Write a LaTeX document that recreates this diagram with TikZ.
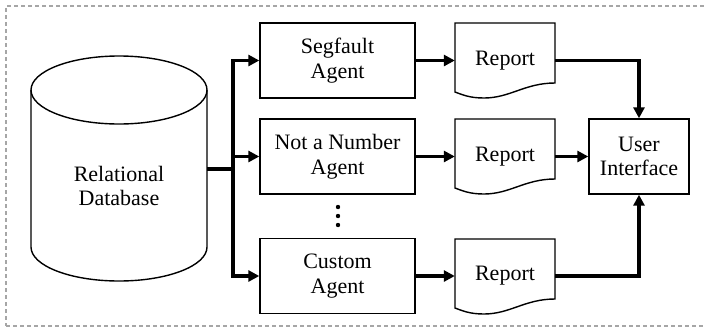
\documentclass[tikz,border=0pt]{standalone}
\usepackage{fontspec}
\setmainfont{Liberation Serif}
\usetikzlibrary{arrows.meta}
\begin{document}
\begin{tikzpicture}[x=1pt,y=-1pt,
  every node/.style={font=\fontsize{22}{24.5}\selectfont},
  box/.style={draw, line width=1.4pt, minimum width=155pt, minimum height=75pt, align=center, inner sep=0pt},
  ghost/.style={draw=none, inner sep=0pt, align=center},
  conn/.style={line width=3.4pt, line join=miter},
  arr/.style={conn, -{Triangle[length=11pt,width=11pt]}},
  outline/.style={line width=1.4pt},
  frame/.style={draw=gray!70, line width=1.5pt, dash pattern=on 4pt off 3pt}
]
\useasboundingbox (0,0) rectangle (704,330);
% frame
\draw[frame] (704,6) -- (6,6) -- (6,326);
\draw[frame, line width=1.2pt] (6,326) -- (704,326);

% database cylinder
\node[ghost, minimum width=176pt, minimum height=222pt] (db) at (119,169) {};
\draw[outline] (31,90) -- (31,247) arc[start angle=180, end angle=360, x radius=88pt, y radius=34pt] -- (207,90);
\draw[outline] (119,90) ellipse [x radius=88pt, y radius=34pt];
\node[ghost] (dbtext) at ([yshift=-17pt]db.center) {Relational\\Database};

% agents
\node[box] (a1) at (337.5,60.5) {Segfault\\Agent};
\node[box] (a2) at (337.5,156.5) {Not a Number\\Agent};
\node[box] (a3) at (337.5,276) {Custom\\Agent};
\fill (338,207) circle (2.2pt);
\fill (338,216) circle (2.2pt);
\fill (338,225) circle (2.2pt);

% reports
\foreach \i/\y in {1/23,2/119,3/239}{
  \draw[outline] (455,\y) -- (555,\y) -- (555,{\y+60})
    .. controls (525,{\y+60}) and (510,{\y+75}) .. (484,{\y+75})
    .. controls (470,{\y+75}) and (463,{\y+72}) .. (455,{\y+69}) -- cycle;
}
\node[ghost, minimum width=100pt, minimum height=75pt] (r1) at (505,60.5) {\raisebox{4pt}{Report}};
\node[ghost, minimum width=100pt, minimum height=75pt] (r2) at (505,156.5) {\raisebox{4pt}{Report}};
\node[ghost, minimum width=100pt, minimum height=75pt] (r3) at (505,276) {\raisebox{4pt}{Report}};

% user interface
\node[box, minimum width=100pt] (ui) at (639,156.5) {User\\Interface};

% connectors
\coordinate (bx) at (233,169);
\draw[conn] (db.east) -- (bx);
\draw[arr] (bx) |- (a1.west);
\draw[arr] (bx) |- (a2.west);
\draw[arr] (bx) |- (a3.west);
\draw[arr] (a1.east) -- (r1.west);
\draw[arr] (a2.east) -- (r2.west);
\draw[arr] (a3.east) -- (r3.west);
\draw[arr] (r1.east) -| (ui.north);
\draw[arr] (r2.east) -- (ui.west);
\draw[arr] (r3.east) -| (ui.south);
\end{tikzpicture}
\end{document}
